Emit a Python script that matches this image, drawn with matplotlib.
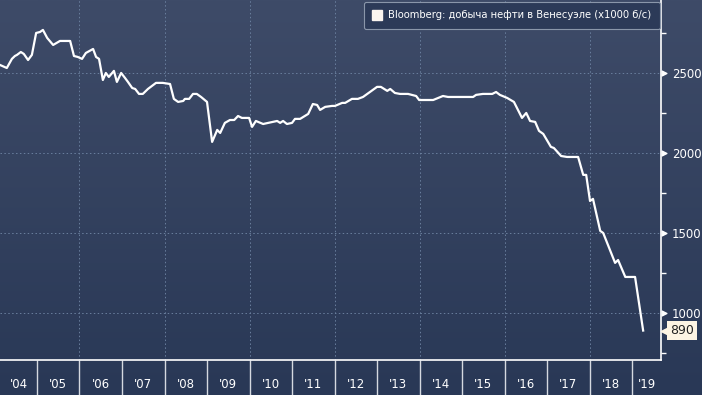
import matplotlib
matplotlib.use("Agg")
import matplotlib.pyplot as plt
import matplotlib.transforms as mtransforms
from matplotlib.colors import LinearSegmentedColormap
import numpy as np

# Добыча нефти в Венесуэле, тыс. баррелей в сутки (Bloomberg)
dates = [2004.13, 2004.29, 2004.41, 2004.48, 2004.53, 2004.62, 2004.69, 2004.79, 2004.88, 2004.98,
         2005.07, 2005.14, 2005.24, 2005.38, 2005.54, 2005.78, 2005.87, 2005.96, 2006.06, 2006.15,
         2006.32, 2006.39, 2006.46, 2006.55, 2006.62, 2006.69, 2006.81, 2006.88, 2006.98, 2007.07,
         2007.14, 2007.24, 2007.31, 2007.40, 2007.49, 2007.61, 2007.80, 2007.96, 2008.13, 2008.22,
         2008.32, 2008.44, 2008.48, 2008.58, 2008.67, 2008.76, 2008.86, 2009.00, 2009.12, 2009.24,
         2009.31, 2009.42, 2009.54, 2009.64, 2009.73, 2009.82, 2009.99, 2010.06, 2010.15, 2010.32,
         2010.44, 2010.65, 2010.72, 2010.79, 2010.88, 2011.00, 2011.07, 2011.19, 2011.38, 2011.49,
         2011.59, 2011.66, 2011.78, 2011.94, 2012.01, 2012.18, 2012.25, 2012.41, 2012.55, 2012.67,
         2013.00, 2013.09, 2013.24, 2013.31, 2013.42, 2013.54, 2013.73, 2013.92, 2013.99, 2014.32,
         2014.44, 2014.55, 2014.67, 2015.26, 2015.33, 2015.49, 2015.71, 2015.80, 2015.89, 2016.06,
         2016.22, 2016.41, 2016.51, 2016.60, 2016.72, 2016.81, 2016.91, 2017.09, 2017.16, 2017.33,
         2017.47, 2017.73, 2017.85, 2017.92, 2018.01, 2018.08, 2018.25, 2018.32, 2018.60, 2018.67,
         2018.84, 2019.07, 2019.26]
output = [2550, 2531, 2588, 2606, 2613, 2631, 2619, 2581, 2613, 2750,
          2756, 2769, 2719, 2675, 2700, 2700, 2606, 2600, 2588, 2625,
          2650, 2600, 2588, 2456, 2500, 2475, 2513, 2444, 2500, 2469,
          2444, 2406, 2400, 2369, 2369, 2400, 2438, 2438, 2431, 2338,
          2319, 2325, 2338, 2338, 2369, 2369, 2350, 2319, 2069, 2144,
          2125, 2188, 2206, 2206, 2231, 2219, 2219, 2163, 2200, 2181,
          2188, 2200, 2188, 2200, 2181, 2188, 2213, 2213, 2244, 2306,
          2300, 2269, 2288, 2294, 2294, 2313, 2313, 2338, 2338, 2350,
          2413, 2413, 2388, 2400, 2375, 2369, 2369, 2356, 2331, 2331,
          2344, 2356, 2350, 2350, 2363, 2369, 2369, 2381, 2363, 2344,
          2319, 2219, 2250, 2200, 2194, 2138, 2119, 2038, 2031, 1981,
          1975, 1975, 1863, 1863, 1700, 1713, 1513, 1500, 1313, 1331,
          1225, 1225, 890]

year_labels = ["'04", "'05", "'06", "'07", "'08", "'09", "'10", "'11",
               "'12", "'13", "'14", "'15", "'16", "'17", "'18", "'19"]
y_ticks = [1000, 1500, 2000, 2500]
legend_text = "Bloomberg: добыча нефти в Венесуэле (x1000 б/с)"

x_min, x_max = 2004.13, 2019.68
y_min, y_max = 706, 2956

plt.rcParams['font.family'] = ['DejaVu Sans']

fig = plt.figure(figsize=(7.02, 3.95), dpi=100)

# фон с градиентом
bg = fig.add_axes([0, 0, 1, 1], zorder=-5)
cmap = LinearSegmentedColormap.from_list("bg", ["#3e4b68", "#293856"])
bg.imshow(np.linspace(0, 1, 256).reshape(-1, 1), aspect="auto", cmap=cmap,
          extent=[0, 1, 0, 1])
bg.axis("off")

ax = fig.add_axes([0, 35 / 395, 661 / 702, 360 / 395])
ax.set_facecolor("none")

ax.plot(dates, output, color="white", lw=1.6, solid_joinstyle="round", zorder=3)

ax.set_xlim(x_min, x_max)
ax.set_ylim(y_min, y_max)

for s in ["top", "left"]:
    ax.spines[s].set_visible(False)
ax.spines["right"].set_color("white")
ax.spines["bottom"].set_color("white")
ax.spines["right"].set_linewidth(1.2)
ax.spines["bottom"].set_linewidth(1.2)

# сетка
for yv in y_ticks:
    ax.axhline(yv, color="#6a7f9e", lw=0.7, ls=(0, (1.5, 2.5)), zorder=1)
for xv in range(2006, 2019, 2):
    ax.axvline(xv, color="#6a7f9e", lw=0.7, ls=(0, (1.5, 2.5)), zorder=1)

# ось X: разделители лет и подписи по центру
ax.set_xticks(range(2005, 2020))
ax.tick_params(axis="x", which="major", length=30, width=1, color="#d5d9e0",
               labelbottom=False, direction="out")
label_pos = [(x_min + 2005) / 2] + [y + 0.5 for y in range(2005, 2019)] + [(2019 + x_max) / 2]
ax.set_xticks(label_pos, minor=True)
ax.set_xticklabels(year_labels, minor=True)
ax.tick_params(axis="x", which="minor", length=0, pad=13, labelsize=8.5,
               labelcolor="white")

# ось Y справа
ax.yaxis.tick_right()
ax.set_yticks(y_ticks)
ax.set_yticklabels([str(v) for v in y_ticks])
ax.set_yticks([750, 1250, 1750, 2250, 2750], minor=True)
ax.tick_params(axis="y", which="major", length=0, pad=8, labelsize=8.5,
               labelcolor="white")
ax.tick_params(axis="y", which="minor", length=3.5, width=1, color="white",
               direction="out")
trans = mtransforms.blended_transform_factory(ax.transAxes, ax.transData)
ax.scatter([1.005] * len(y_ticks), y_ticks, marker=">", s=12, color="white",
           transform=trans, clip_on=False, zorder=5)

# последнее значение
last = output[-1]
ax.scatter([1.009], [last], marker="<", s=80, color="#fdf4e3",
           transform=trans, clip_on=False, zorder=5)
ax.text(1.014, last, str(last), transform=trans, ha="left", va="center",
        fontsize=9, color="#222222", zorder=6,
        bbox=dict(boxstyle="square,pad=0.25", fc="#fdf4e3", ec="none"))

# легенда
ax.plot([], [], ls="none", marker="s", ms=7.5, color="#fbf5f0", label=legend_text)
lg = ax.legend(loc="upper right", bbox_to_anchor=(1.0, 1.0), fontsize=7.2,
               frameon=True, fancybox=True, facecolor="#2c3a58",
               edgecolor="#8a96aa", labelcolor="white", handlelength=0.8,
               handletextpad=0.7, borderpad=0.85, borderaxespad=0.15)
lg.get_frame().set_linewidth(0.8)
lg.get_frame().set_alpha(1)

fig.savefig("out.png", dpi=100)
